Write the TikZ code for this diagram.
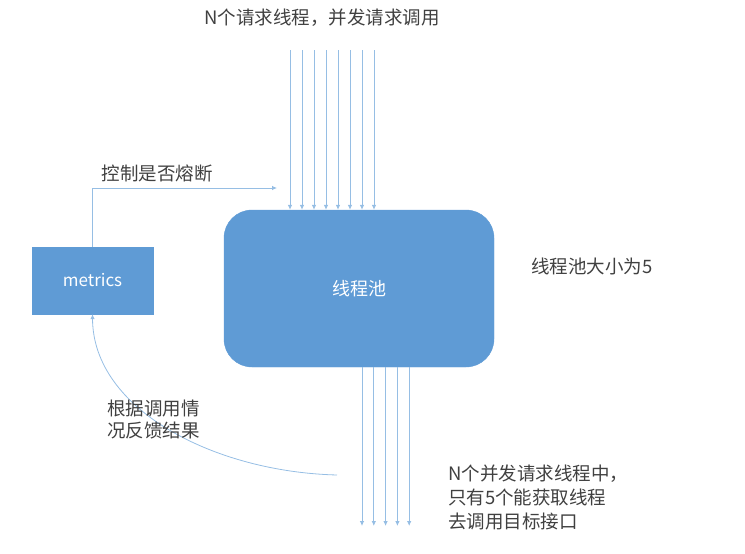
\documentclass[tikz,border=0pt]{standalone}
\usepackage{fontspec}
\setmainfont{Noto Sans CJK SC}
\usetikzlibrary{arrows.meta,positioning}
\definecolor{boxblue}{RGB}{95,155,213}
\definecolor{lineblue}{RGB}{150,190,228}
\definecolor{txtgray}{RGB}{64,64,64}

\begin{document}
\begin{tikzpicture}[x=1pt, y=-1pt,
		bluebox/.style={draw=boxblue, fill=boxblue, text=white, inner sep=0pt},
		thinarrow/.style={draw=lineblue, line width=0.8pt, -{Latex[length=5pt,width=4.5pt]}},
		txtnote/.style={text=txtgray, font=\fontsize{18.5}{22}\selectfont, align=left, inner sep=0pt}
		]
		\useasboundingbox (0,0) rectangle (745,554);

		\node[bluebox, minimum width=270pt, minimum height=157pt, rounded corners=28pt,
		font=\fontsize{18}{20}\selectfont](P0) at (359,288.5){线程池};
		\node[bluebox, minimum width=121pt, minimum height=67pt,
		font=\fontsize{17}{20}\selectfont](M0) at (92.5,280.5){metrics};

		\node[txtnote](H0) at (322,18){N个请求线程，并发请求调用};
		\foreach \i in {0,...,7}{
			\coordinate (T\i) at (290+12*\i,50);
			\draw[thinarrow] (T\i) -- (T\i |- P0.north);
		}
		\foreach \i in {0,...,4}{
			\coordinate (B\i) at (362+11.8*\i,526);
			\draw[thinarrow] (B\i |- P0.south) -- (B\i);
		}

		\coordinate (C0) at (277,188);
		\draw[thinarrow] (M0.north) |- (C0);
		\node[txtnote](L1) at (157,173){控制是否熔断};

		\coordinate (F0) at (337,475);
		\draw[thinarrow] (F0) .. controls (215,472) and (93,410) .. (M0.south);
		\node[txtnote, anchor=west](L2) at (107,419){根据调用情\\况反馈结果};

		\node[txtnote, anchor=west](R0) at (531,266){线程池大小为5};
		\node[txtnote, anchor=west, font=\fontsize{18.5}{24}\selectfont](N0) at (448,497)
		{N个并发请求线程中，\\只有5个能获取线程\\去调用目标接口};
	\end{tikzpicture}
\end{document}
